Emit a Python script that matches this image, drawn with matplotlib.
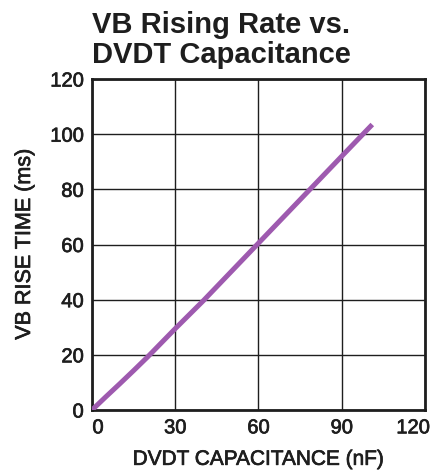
import matplotlib
matplotlib.use("Agg")
import matplotlib.pyplot as plt
import matplotlib.patheffects as pe
from matplotlib.transforms import ScaledTranslation

cap_nf = [0, 5, 10, 15, 20, 30, 40, 50, 60, 70, 80, 90, 101]
rise_ms = [0, 4.8, 9.5, 14.3, 19.2, 29.5, 39.5, 50, 60.5, 71, 81.5, 92, 103.5]
x_ticks = [0, 30, 60, 90, 120]
y_ticks = [0, 20, 40, 60, 80, 100, 120]

plt.rcParams['font.family'] = ['Liberation Sans', 'DejaVu Sans']

ink = '#1e1e1e'
thick = [pe.withStroke(linewidth=0.5, foreground=ink)]

fig = plt.figure(figsize=(4.31, 4.77), dpi=100)
ax = fig.add_axes([92/431, 1-411/477, 333/431, 331/477])

ax.plot(cap_nf, rise_ms, color='#9e5aaf', lw=3.6, solid_capstyle='butt', zorder=3)
ax.set_xlim(0, 120)
ax.set_ylim(0, 120)
ax.set_xticks(x_ticks)
ax.set_yticks(y_ticks)
ax.set_xticklabels([str(v) for v in x_ticks])
ax.set_yticklabels([str(v) for v in y_ticks])
ax.grid(True, color=ink, lw=1.0)
ax.tick_params(length=0, labelsize=14.5, colors=ink)
ax.tick_params(axis='x', pad=6)
ax.tick_params(axis='y', pad=6)
for s in ax.spines.values():
    s.set_linewidth(2.0)
    s.set_color(ink)

xl = ax.get_xticklabels()
xl[0].set_transform(xl[0].get_transform() + ScaledTranslation(6/100, 0, fig.dpi_scale_trans))
xl[-1].set_transform(xl[-1].get_transform() + ScaledTranslation(-12/100, 0, fig.dpi_scale_trans))
for t in ax.get_xticklabels() + ax.get_yticklabels():
    t.set_path_effects(thick)

ax.set_xlabel('DVDT CAPACITANCE (nF)', fontsize=15, color=ink, labelpad=9,
              path_effects=thick)
ax.set_ylabel('VB RISE TIME (ms)', fontsize=15.5, color=ink, labelpad=11,
              path_effects=thick)

fig.text(92/431, 1-33/477, 'VB Rising Rate vs.', fontsize=21,
         fontweight='bold', color=ink, va='baseline', ha='left')
fig.text(92/431, 1-63/477, 'DVDT Capacitance', fontsize=21,
         fontweight='bold', color=ink, va='baseline', ha='left')

fig.savefig('out.png', dpi=100)
